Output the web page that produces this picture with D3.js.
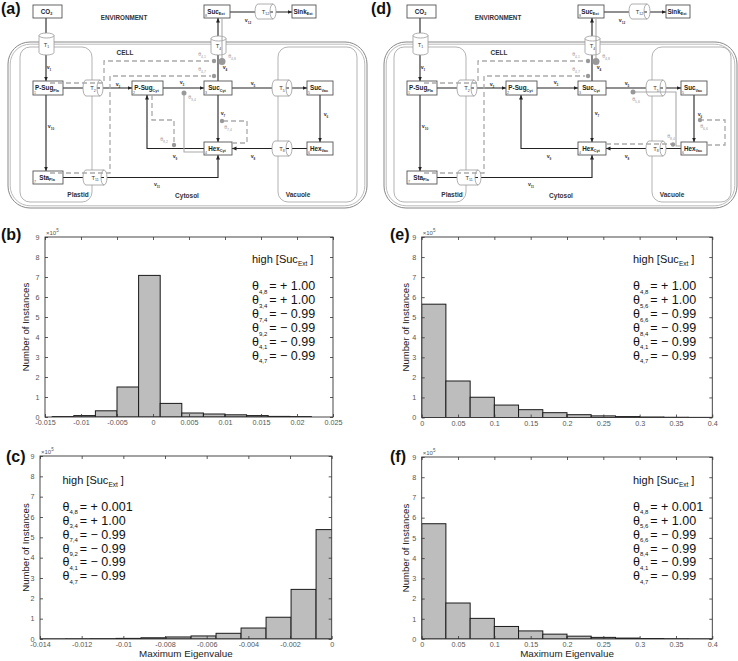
<!DOCTYPE html>
<html><head><meta charset="utf-8">
<script src="https://cdn.jsdelivr.net/npm/d3@7"></script>
<style>body{margin:0;background:#fff} svg{display:block} text{font-family:"Liberation Sans",Arial,Helvetica,sans-serif}</style>
</head><body><svg id="c" width="738" height="661"></svg>
<script>
// ---------------- DATA ----------------
// histogram (b)
const edgesB  = [-0.014,-0.011,-0.008,-0.005,-0.002,0.001,0.004,0.007,0.010,0.013,0.016,0.019,0.022];
const countsB = [0.02,0.07,0.31,1.50,7.08,0.68,0.20,0.15,0.11,0.07,0.03,0.02];
const xTicksB = [-0.015,-0.01,-0.005,0,0.005,0.01,0.015,0.02,0.025];
// histogram (c)
const edgesC  = [-0.01395,-0.01275,-0.01155,-0.01035,-0.00915,-0.00795,-0.00675,-0.00555,-0.00435,-0.00315,-0.00195,-0.00075,0.00045];
const countsC = [0.005,0.01,0.015,0.03,0.06,0.10,0.15,0.28,0.54,1.07,2.44,5.38];
const xTicksC = [-0.014,-0.012,-0.01,-0.008,-0.006,-0.004,-0.002,0];
// histogram (e)
const edgesE  = [0,0.0333,0.0667,0.1,0.1333,0.1667,0.2,0.2333,0.2667,0.3,0.3333,0.3667,0.4];
const countsE = [5.65,1.82,1.01,0.62,0.39,0.24,0.14,0.08,0.045,0.025,0.012,0.006];
const xTicksE = [0,0.05,0.1,0.15,0.2,0.25,0.3,0.35,0.4];
// histogram (f)
const edgesF  = [0,0.0333,0.0667,0.1,0.1333,0.1667,0.2,0.2333,0.2667,0.3,0.3333,0.3667,0.4];
const countsF = [5.70,1.78,1.02,0.62,0.40,0.24,0.14,0.08,0.045,0.025,0.012,0.006];
const xTicksF = [0,0.05,0.1,0.15,0.2,0.25,0.3,0.35,0.4];
const yTicks  = [0,1,2,3,4,5,6,7,8,9];
// parameter annotations
const paramsB = [["4,8","+ 1.00"],["3,4","+ 1.00"],["7,4","\u2212 0.99"],["9,2","\u2212 0.99"],["4,1","\u2212 0.99"],["4,7","\u2212 0.99"]];
const paramsC = [["4,8","+ 0.001"],["3,4","+ 1.00"],["7,4","\u2212 0.99"],["9,2","\u2212 0.99"],["4,1","\u2212 0.99"],["4,7","\u2212 0.99"]];
const paramsE = [["4,8","+ 1.00"],["5,6","+ 1.00"],["6,6","\u2212 0.99"],["8,4","\u2212 0.99"],["4,1","\u2212 0.99"],["4,7","\u2212 0.99"]];
const paramsF = [["4,8","+ 0.001"],["5,6","+ 1.00"],["6,6","\u2212 0.99"],["8,4","\u2212 0.99"],["4,1","\u2212 0.99"],["4,7","\u2212 0.99"]];

// ---------------- SETUP ----------------
const svg = d3.select("#c");
const defs = svg.append("defs");
defs.append("marker").attr("id","ah").attr("viewBox","0 0 10 10").attr("refX",10).attr("refY",5)
  .attr("markerWidth",4.5).attr("markerHeight",4.5).attr("markerUnits","userSpaceOnUse").attr("orient","auto")
  .append("path").attr("d","M0,0.5 L10,5 L0,9.5 Z").attr("fill","#222");

function subText(g, x, y, main, sub, o){
  const t = g.append("text").attr("x",x).attr("y",y).attr("font-size",o.size)
    .attr("font-weight",o.weight||"bold").attr("fill",o.fill||"#222").attr("text-anchor",o.anchor||"middle");
  t.append("tspan").text(main);
  if (sub) t.append("tspan").attr("font-size",o.size*(o.subScale||0.6)).attr("dy",o.size*0.3).text(sub);
  return t;
}

// ---------------- DIAGRAMS ----------------
function drawDiagram(ox, variant, cellX0, cellX1, label){
  const g = svg.append("g").attr("transform",`translate(${ox},0)`);
  const L = d3.line();
  const ln = (pts,o={}) => g.append("path").attr("d",L(pts)).attr("fill","none")
     .attr("stroke",o.c||"#222").attr("stroke-width",o.w||1.1)
     .attr("stroke-dasharray",o.dash||null).attr("marker-end",o.arrow?"url(#ah)":null);
  const box = (x0,y0,x1,y1,main,sub,num) => {
    g.append("rect").attr("x",x0).attr("y",y0).attr("width",x1-x0).attr("height",y1-y0)
      .attr("fill","#fff").attr("stroke","#555").attr("stroke-width",0.9);
    subText(g,(x0+x1)/2-1,(y0+y1)/2+2,main,sub,{size:6.3});
    if (num) g.append("text").attr("x",x0+1).attr("y",y1-1).attr("font-size",3.6).attr("fill","#555").text(num);
  };
  const cylH = (x0,y0,x1,y1,sub) => {
    const rx=3, ry=(y1-y0)/2;
    g.append("path").attr("d",`M${x0+rx},${y0} L${x1-rx},${y0} A${rx},${ry} 0 0 1 ${x1-rx},${y1} L${x0+rx},${y1} A${rx},${ry} 0 0 1 ${x0+rx},${y0} Z M${x1-rx},${y0} A${rx},${ry} 0 0 0 ${x1-rx},${y1}`)
      .attr("fill","#fff").attr("stroke","#999").attr("stroke-width",0.8);
    subText(g,(x0+x1)/2,(y0+y1)/2+2,"T",sub,{size:5.8,weight:"normal",fill:"#333"});
  };
  const cylV = (x0,y0,x1,y1,sub) => {
    const ry=2.5, rx=(x1-x0)/2;
    g.append("path").attr("d",`M${x0},${y0+ry} L${x0},${y1-ry} A${rx},${ry} 0 0 0 ${x1},${y1-ry} L${x1},${y0+ry} A${rx},${ry} 0 0 0 ${x0},${y0+ry} Z M${x0},${y0+ry} A${rx},${ry} 0 0 0 ${x1},${y0+ry}`)
      .attr("fill","#fff").attr("stroke","#999").attr("stroke-width",0.8);
    subText(g,(x0+x1)/2,(y0+y1)/2+2.5,"T",sub,{size:5.8,weight:"normal",fill:"#333"});
  };
  const vlab = (x,y,n) => subText(g,x,y,"v",n,{size:5.2,weight:"bold",fill:"#333"});
  const th = (x,y,s) => subText(g,x,y,"\u03B8",s,{size:5.2,weight:"normal",fill:"#999",subScale:0.65});
  const dot = (x,y,r) => g.append("circle").attr("cx",x).attr("cy",y).attr("r",r).attr("fill","#999");
  const dash = (pts) => ln(pts,{c:"#aaa",w:1.3,dash:"5,3"});
  const gline = (pts) => ln(pts,{c:"#aaa",w:1.1});

  // compartments
  g.append("rect").attr("x",cellX0).attr("y",42).attr("width",cellX1-cellX0).attr("height",166).attr("rx",22)
    .attr("fill","none").attr("stroke","#888").attr("stroke-width",1);
  g.append("rect").attr("x",cellX0+2.2).attr("y",44.2).attr("width",cellX1-cellX0-4.4).attr("height",161.6).attr("rx",20)
    .attr("fill","none").attr("stroke","#aaa").attr("stroke-width",0.8);
  g.append("rect").attr("x",20).attr("y",47).attr("width",72).attr("height",155).attr("rx",10)
    .attr("fill","none").attr("stroke","#aaa").attr("stroke-width",0.9);
  g.append("rect").attr("x",278).attr("y",47).attr("width",79).attr("height",155).attr("rx",10)
    .attr("fill","none").attr("stroke","#aaa").attr("stroke-width",0.9);

  const bt = (x,y,s,sz) => g.append("text").attr("x",x).attr("y",y).attr("font-size",sz).attr("font-weight","bold")
      .attr("fill","#333").attr("text-anchor","middle").text(s);
  bt(124,20,"ENVIRONMENT",6.3); bt(125,55,"CELL",6.5);
  bt(78,197,"Plastid",6.5); bt(187,198,"Cytosol",6.5); bt(298,197,"Vacuole",6.5);

  // reaction arrows
  ln([[46,18],[46,81]],{arrow:true});
  ln([[63,88],[132,88]],{arrow:true});
  ln([[163,88],[204,88]],{arrow:true});
  ln([[232,88],[307,88]],{arrow:true});
  ln([[320,95],[320,142]],{arrow:true});
  ln([[307,148.5],[232,148.5]],{arrow:true});
  ln([[218,95],[218,142]],{arrow:true});
  ln([[204,148.5],[147,148.5],[147,95]],{arrow:true});
  ln([[218,81],[218,18]],{arrow:true});
  ln([[46,95],[46,171]],{arrow:true});
  ln([[63,177.5],[218,177.5],[218,155]],{arrow:true});
  ln([[230,12],[292,12]],{arrow:true});

  // transporters
  cylV(39,33,54,55,"1");
  cylV(211,36,226,55,"4");
  cylH(83,80,103,96,"2");
  cylH(272,80,292,96,"5");
  cylH(272,141,292,156,"8");
  cylH(83,170,107,185,"11");
  cylH(255,4,276,19,"12");

  // metabolite boxes
  box(33,5,62,18,"CO","2");
  box(204,5,230,18,"Suc","Ext","8");
  box(292,5,316,18,"Sink","Ext");
  box(33,81,63,95,"P-Sug","Pla","1");
  box(132,81,163,95,"P-Sug","Cyt","2");
  box(204,81,232,95,"Suc","Cyt","3");
  box(307,81,333,95,"Suc","Vac","5");
  box(204,142,232,155,"Hex","Cyt","4");
  box(307,142,333,155,"Hex","Vac","6");
  box(33,171,63,184,"Sta","Pla","7");

  // regulation common
  dash([[50,83],[104,83],[104,61],[211,61]]); dot(214,61,2.2); th(202,56,"4,1");
  dash([[50,173],[110,173],[110,76],[211,76]]); dot(214,76,2.2); th(202,71,"4,7");
  gline([[222,18],[222,61]]); dot(222,61.5,3.5); th(232,58,"4,8");
  if (variant==="a"){
    gline([[204,152],[184,152],[184,93]]); dot(184,93,2.5); th(192,99,"3,4");
    dash([[152,95],[152,120],[174,120],[174,143]]); dot(174,145,2.2); th(164,141,"9,2");
    dash([[232,143],[247,143],[247,121],[224,121]]); dot(222,121,2.2); th(228,129,"7,4");
  } else {
    gline([[259,92],[302,92],[302,146],[307,146]]); dot(259,92,2.5); th(262,101,"5,6");
    dash([[232,144],[297,144]]); dot(299,144.5,2.2); th(297,138,"8,4");
    dash([[333,145],[351,145],[351,120],[328,120]]); dot(326,120,2.2); th(330,128,"6,6");
  }

  // flux labels
  vlab(49,69,"1"); vlab(118,86,"2"); vlab(182,84,"3"); vlab(225,69,"4"); vlab(253,85,"5");
  vlab(326,116,"6"); vlab(223,115,"7"); vlab(253,158,"8"); vlab(175,158,"9"); vlab(51,128,"10");
  vlab(157,186,"11"); vlab(248,22,"12");

  svg.append("text").attr("x",label.x).attr("y",label.y).attr("font-size",16).attr("font-weight","bold")
    .attr("fill","#111").text(label.t);
}
drawDiagram(0,"a",8,367,{x:1,y:13.5,t:"(a)"});
drawDiagram(374,"d",10,363,{x:371,y:13.5,t:"(d)"});

// ---------------- HISTOGRAMS ----------------
let clipN = 0;
function hist(c){
  const g = svg.append("g");
  const x = d3.scaleLinear().domain(c.xDomain).range([c.left,c.right]);
  const y = d3.scaleLinear().domain([0,9]).range([c.bottom,c.top]);
  const id = "clip"+(clipN++);
  defs.append("clipPath").attr("id",id).append("rect").attr("x",c.left).attr("y",c.top)
    .attr("width",c.right-c.left).attr("height",c.bottom-c.top);
  const bins = c.counts.map((v,i)=>({x0:c.edges[i],x1:c.edges[i+1],v}));
  g.append("g").attr("clip-path",`url(#${id})`).selectAll("rect").data(bins).join("rect")
    .attr("x",d=>x(d.x0)).attr("width",d=>x(d.x1)-x(d.x0))
    .attr("y",d=>y(d.v)).attr("height",d=>y(0)-y(d.v))
    .attr("fill","#bdbdbd").attr("stroke","#1a1a1a").attr("stroke-width",1);

  const fmt = v => String(+v.toFixed(4));
  const style = (ax) => { ax.select(".domain").remove();
    ax.selectAll("line").attr("stroke","#333").attr("stroke-width",0.8);
    ax.selectAll("text").attr("fill","#555").attr("font-size",7.2)
      .style("font-family","'Liberation Sans',Arial,sans-serif"); };
  g.append("g").attr("transform",`translate(0,${c.bottom})`)
    .call(d3.axisBottom(x).tickValues(c.xTicks).tickFormat(fmt).tickSizeInner(-3).tickSizeOuter(0).tickPadding(3)).call(style);
  g.append("g").attr("transform",`translate(0,${c.top})`)
    .call(d3.axisTop(x).tickValues(c.xTicks).tickFormat("").tickSizeInner(-3).tickSizeOuter(0)).call(style);
  g.append("g").attr("transform",`translate(${c.left},0)`)
    .call(d3.axisLeft(y).tickValues(yTicks).tickFormat(d3.format("d")).tickSizeInner(-3).tickSizeOuter(0).tickPadding(5.5)).call(style);
  g.append("g").attr("transform",`translate(${c.right},0)`)
    .call(d3.axisRight(y).tickValues(yTicks).tickFormat("").tickSizeInner(-3).tickSizeOuter(0)).call(style);
  g.append("rect").attr("x",c.left).attr("y",c.top).attr("width",c.right-c.left).attr("height",c.bottom-c.top)
    .attr("fill","none").attr("stroke","#333").attr("stroke-width",0.9);

  // x10^5
  const e = g.append("text").attr("x",c.left+1).attr("y",c.top-2.5).attr("font-size",6).attr("fill","#555");
  e.append("tspan").text("\u00D710"); e.append("tspan").attr("font-size",4.5).attr("dy",-2.5).text("5");

  // y label
  g.append("text").attr("transform",`translate(${c.ylabX},${(c.top+c.bottom)/2}) rotate(-90)`)
    .attr("text-anchor","middle").attr("font-size",9.6).attr("fill","#222").text("Number of Instances");
  if (c.xlabel) g.append("text").attr("x",(c.left+c.right)/2).attr("y",c.bottom+18.3)
    .attr("text-anchor","middle").attr("font-size",9.8).attr("fill","#222").text("Maximum Eigenvalue");

  // annotation
  const h = g.append("text").attr("x",c.annX).attr("y",c.annY).attr("font-size",11).attr("fill","#111");
  h.append("tspan").text("high [Suc"); h.append("tspan").attr("font-size",6.5).attr("dy",3).text("Ext");
  h.append("tspan").attr("dy",-3).text(" ]");
  c.params.forEach((p,i)=>{
    const t = g.append("text").attr("x",c.annX).attr("y",c.annY+27.3+i*13.9).attr("font-size",12.5).attr("fill","#111");
    t.append("tspan").text("\u03B8");
    t.append("tspan").attr("font-size",6).attr("dy",3.5).text(p[0]);
    t.append("tspan").attr("dy",-3.5).attr("dx",2).text("= "+p[1]);
  });
  svg.append("text").attr("x",c.lab.x).attr("y",c.lab.y).attr("font-size",16).attr("font-weight","bold")
    .attr("fill","#111").text(c.lab.t);
}

hist({edges:edgesB,counts:countsB,xTicks:xTicksB,xDomain:[-0.015,0.025],left:45,right:333,top:237,bottom:417,
      ylabX:29,annX:252,annY:263,params:paramsB,lab:{x:1,y:239.5,t:"(b)"}});
hist({edges:edgesC,counts:countsC,xTicks:xTicksC,xDomain:[-0.014,0],left:40,right:331.7,top:456,bottom:639,
      ylabX:29,annX:62.5,annY:483.5,params:paramsC,xlabel:true,lab:{x:6,y:461.5,t:"(c)"}});
hist({edges:edgesE,counts:countsE,xTicks:xTicksE,xDomain:[0,0.4],left:421.7,right:712.3,top:237,bottom:417.5,
      ylabX:409,annX:633,annY:263,params:paramsE,lab:{x:390,y:239.5,t:"(e)"}});
hist({edges:edgesF,counts:countsF,xTicks:xTicksF,xDomain:[0,0.4],left:421.7,right:712.3,top:457,bottom:639,
      ylabX:409,annX:633,annY:483.5,params:paramsF,xlabel:true,lab:{x:390,y:461.5,t:"(f)"}});
</script></body></html>
